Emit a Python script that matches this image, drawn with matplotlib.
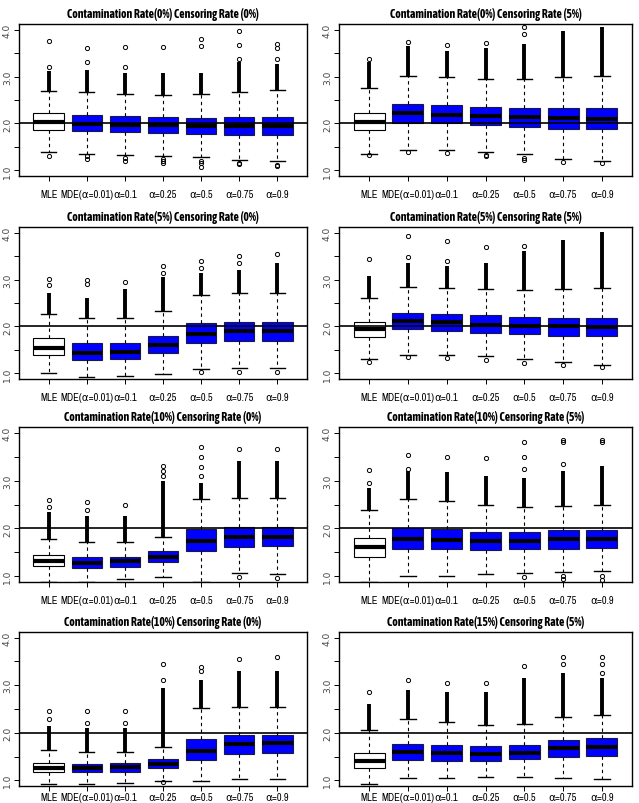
import numpy as np
import matplotlib
matplotlib.use("Agg")
import matplotlib.pyplot as plt

plt.rcParams['font.family'] = ['Archivo Narrow', 'DejaVu Sans']

labels = ["MLE", "MDE(α=0.01)", "α=0.1", "α=0.25", "α=0.5", "α=0.75", "α=0.9"]
titles = ["Contamination Rate(0%) Censoring Rate (0%)", "Contamination Rate(0%) Censoring Rate (5%)",
          "Contamination Rate(5%) Censoring Rate (0%)", "Contamination Rate(5%) Censoring Rate (5%)",
          "Contamination Rate(10%) Censoring Rate (0%)", "Contamination Rate(10%) Censoring Rate (5%)",
          "Contamination Rate(10%) Censoring Rate (0%)", "Contamination Rate(15%) Censoring Rate (5%)"]

# box stats, one row per panel, one value per estimator
q3 = [[2.22, 2.17, 2.15, 2.13, 2.11, 2.13, 2.14],
      [2.22, 2.42, 2.39, 2.36, 2.34, 2.34, 2.34],
      [1.75, 1.64, 1.65, 1.80, 2.07, 2.10, 2.10],
      [2.10, 2.29, 2.27, 2.24, 2.21, 2.19, 2.19],
      [1.45, 1.40, 1.41, 1.52, 1.98, 2.03, 2.03],
      [1.81, 2.00, 1.98, 1.93, 1.92, 1.96, 1.96],
      [1.37, 1.35, 1.37, 1.44, 1.87, 1.96, 1.96],
      [1.57, 1.77, 1.74, 1.72, 1.75, 1.84, 1.88]]
med = [[2.03, 1.99, 1.97, 1.96, 1.94, 1.94, 1.94],
       [2.03, 2.22, 2.19, 2.16, 2.13, 2.11, 2.10],
       [1.54, 1.44, 1.46, 1.60, 1.84, 1.90, 1.90],
       [1.94, 2.12, 2.09, 2.04, 2.01, 2.00, 1.98],
       [1.32, 1.28, 1.31, 1.41, 1.73, 1.82, 1.83],
       [1.61, 1.78, 1.76, 1.73, 1.73, 1.77, 1.77],
       [1.26, 1.25, 1.28, 1.34, 1.62, 1.76, 1.78],
       [1.40, 1.59, 1.57, 1.55, 1.58, 1.67, 1.71]]
q1 = [[1.87, 1.83, 1.81, 1.79, 1.77, 1.75, 1.75],
      [1.87, 2.01, 2.00, 1.96, 1.92, 1.89, 1.88],
      [1.40, 1.28, 1.31, 1.44, 1.64, 1.69, 1.70],
      [1.78, 1.94, 1.91, 1.87, 1.83, 1.80, 1.79],
      [1.21, 1.18, 1.20, 1.29, 1.53, 1.62, 1.63],
      [1.41, 1.58, 1.56, 1.55, 1.57, 1.58, 1.60],
      [1.17, 1.17, 1.18, 1.25, 1.43, 1.55, 1.57],
      [1.25, 1.43, 1.40, 1.40, 1.45, 1.50, 1.52]]
whi = [[2.70, 2.67, 2.63, 2.61, 2.62, 2.67, 2.72],
       [2.75, 3.01, 2.98, 2.95, 2.95, 2.98, 3.02],
       [2.27, 2.19, 2.17, 2.33, 2.67, 2.71, 2.72],
       [2.60, 2.85, 2.82, 2.79, 2.78, 2.79, 2.81],
       [1.77, 1.71, 1.71, 1.83, 2.62, 2.63, 2.63],
       [2.39, 2.62, 2.57, 2.50, 2.44, 2.47, 2.50],
       [1.64, 1.60, 1.60, 1.71, 2.52, 2.55, 2.54],
       [2.06, 2.28, 2.23, 2.17, 2.18, 2.33, 2.38]]
wlo = [[1.39, 1.35, 1.33, 1.30, 1.28, 1.23, 1.21],
       [1.35, 1.44, 1.43, 1.40, 1.35, 1.24, 1.20],
       [1.00, 0.93, 0.94, 0.99, 1.10, 1.12, 1.11],
       [1.30, 1.39, 1.39, 1.36, 1.30, 1.25, 1.18],
       [0.89, 0.88, 0.94, 0.99, 0.89, 1.06, 1.04],
       [0.88, 1.01, 1.01, 1.04, 1.06, 1.09, 1.11],
       [0.93, 0.93, 0.95, 0.99, 0.99, 1.02, 1.03],
       [0.93, 1.05, 1.05, 1.06, 1.06, 1.05, 1.02]]
# top of the solid run of overlapping outliers above each whisker
run_top = [[3.12, 3.13, 3.08, 3.08, 3.08, 3.30, 3.27],
           [3.30, 3.65, 3.55, 3.60, 3.70, 3.98, 4.05],
           [2.72, 2.60, 2.80, 3.05, 3.15, 3.20, 3.35],
           [3.08, 3.35, 3.28, 3.35, 3.60, 3.85, 4.02],
           [2.35, 2.25, 2.25, 3.00, 2.95, 3.40, 3.40],
           [2.85, 3.20, 3.18, 3.10, 3.05, 3.20, 3.30],
           [2.15, 2.10, 2.10, 2.95, 3.10, 3.30, 3.30],
           [2.60, 2.90, 2.85, 2.85, 3.15, 3.25, 3.15]]
out_hi = [[[3.20, 3.75], [3.30, 3.61], [3.20, 3.62], [3.62], [3.65, 3.80], [3.38, 3.68, 3.97], [3.38, 3.60, 3.70]],
          [[3.37], [3.73], [3.68], [3.72], [3.90, 4.05], [], []],
          [[2.88, 3.02], [2.90, 3.00], [2.95], [3.15, 3.28], [3.25, 3.40], [3.35, 3.50], [3.55]],
          [[3.43], [3.47, 3.92], [3.40, 3.83], [3.70], [3.72], [], []],
          [[2.45, 2.60], [2.38, 2.55], [2.50], [3.10, 3.20, 3.30], [3.10, 3.28, 3.50, 3.70], [3.67], [3.67]],
          [[2.95, 3.22], [3.25, 3.53], [3.50], [3.47], [3.25, 3.50, 3.80], [3.35, 3.80, 3.85], [3.80, 3.85]],
          [[2.30, 2.45], [2.20, 2.45], [2.20, 2.45], [3.10, 3.45], [3.30, 3.38], [3.55], [3.60]],
          [[2.85], [3.10], [3.05], [3.05], [3.40], [3.45, 3.60], [3.25, 3.45, 3.60]]]
out_lo = [[[1.30], [1.30, 1.25], [1.27, 1.20], [1.25, 1.20, 1.15], [1.20, 1.15, 1.07], [1.15, 1.13], [1.12, 1.10]],
          [[1.32], [1.39], [1.37], [1.33, 1.30], [1.27, 1.22], [1.18], [1.15]],
          [[], [], [], [], [1.03], [1.03], [1.03]],
          [[1.25], [1.35], [1.33], [1.28], [1.22], [1.17], [1.14]],
          [[], [], [], [], [], [0.98], [0.97]],
          [[], [], [], [], [0.98], [1.00, 0.95], [1.00, 0.93]],
          [[], [], [], [0.97], [], [], []],
          [[], [], [], [], [], [], []]]

W, H = 639, 804
fig = plt.figure(figsize=(W / 100, H / 100), dpi=100)
cols = [(19, 307), (339, 632)]
rows = [(25, 177), (228, 380), (428, 583), (633, 787)]
pos = np.arange(1, 8)

for p in range(8):
    (x0, x1), (y0, y1) = cols[p % 2], rows[p // 2]
    ax = fig.add_axes([x0 / W, 1 - y1 / H, (x1 - x0) / W, (y1 - y0) / H])
    stats = []
    for i in range(7):
        stats.append(dict(med=med[p][i], q1=q1[p][i], q3=q3[p][i], whislo=wlo[p][i], whishi=whi[p][i],
                          fliers=out_hi[p][i] + out_lo[p][i]))
    bp = ax.bxp(stats, positions=pos, widths=0.8, capwidths=0.4, patch_artist=True,
                boxprops=dict(edgecolor='#1a1a40', linewidth=0.8),
                medianprops=dict(color='black', linewidth=3, solid_capstyle='butt'),
                whiskerprops=dict(color='black', linestyle=(0, (3, 3)), linewidth=0.8),
                capprops=dict(color='black', linewidth=1),
                flierprops=dict(marker='o', markersize=3, markerfacecolor='none',
                                markeredgecolor='black', markeredgewidth=0.7))
    for i, b in enumerate(bp['boxes']):
        b.set_facecolor('white' if i == 0 else '#0000ff')
        if i == 0:
            b.set_edgecolor('black')
    ax.vlines(pos, whi[p], run_top[p], color='black', linewidth=2.8, zorder=3)
    ax.axhline(2.0, color='black', linewidth=1.2, zorder=4)
    ax.set_xlim(0.22, 7.78)
    ax.set_ylim(0.88, 4.12)
    ax.set_xticks(pos)
    ax.set_xticklabels(labels, fontsize=7.5)
    ax.set_yticks([1, 2, 3, 4])
    ax.set_yticklabels(["1.0", "2.0", "3.0", "4.0"], fontsize=6.5, rotation=90, va='center',
                       color='#444444', family='DejaVu Sans')
    ax.set_yticks([1.5, 2.5, 3.5], minor=True)
    ax.tick_params(axis='y', which='both', length=3.5, width=0.7, pad=1.5)
    # bottom row: labels pulled up a little so they stay inside the image
    ax.tick_params(axis='x', length=3.5, width=0.7, pad=6 if p < 6 else 0.5)
    for s in ax.spines.values():
        s.set_linewidth(1.0)
    ax.set_title(titles[p], fontsize=8.5, fontweight='bold', pad=5,
                 family=['Asap Condensed', 'Archivo Narrow', 'DejaVu Sans'])

fig.savefig("out.png", dpi=100)
